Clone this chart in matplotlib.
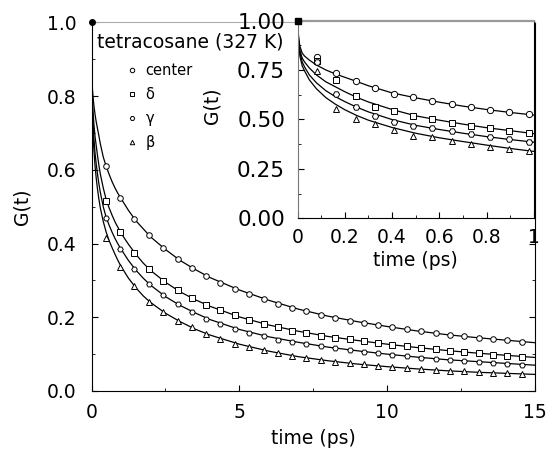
import matplotlib
matplotlib.use('Agg')
import matplotlib.pyplot as plt
from matplotlib.ticker import MultipleLocator

plt.rcParams['font.family'] = ['DejaVu Sans']

# main panel: sampled G(t), 0.485 ps apart
t_main = [0.48, 0.97, 1.45, 1.94, 2.42, 2.91, 3.39, 3.88, 4.36, 4.85,
          5.33, 5.82, 6.30, 6.79, 7.27, 7.76, 8.24, 8.73, 9.21, 9.70,
          10.18, 10.67, 11.15, 11.64, 12.12, 12.61, 13.09, 13.58, 14.06, 14.55]
g_center = [0.611, 0.524, 0.467, 0.423, 0.388, 0.358, 0.334, 0.312, 0.293, 0.277,
            0.263, 0.250, 0.236, 0.225, 0.217, 0.206, 0.198, 0.191, 0.185, 0.179,
            0.174, 0.168, 0.163, 0.158, 0.153, 0.148, 0.145, 0.141, 0.137, 0.133]
g_delta = [0.515, 0.432, 0.374, 0.331, 0.299, 0.274, 0.253, 0.234, 0.220, 0.205,
           0.192, 0.182, 0.173, 0.164, 0.157, 0.150, 0.145, 0.140, 0.135, 0.130,
           0.125, 0.121, 0.117, 0.113, 0.109, 0.105, 0.102, 0.099, 0.096, 0.093]
g_gamma = [0.469, 0.385, 0.330, 0.290, 0.260, 0.235, 0.214, 0.196, 0.181, 0.169,
           0.158, 0.148, 0.139, 0.134, 0.128, 0.121, 0.116, 0.111, 0.106, 0.102,
           0.098, 0.094, 0.090, 0.087, 0.084, 0.081, 0.078, 0.076, 0.073, 0.071]
g_beta = [0.415, 0.337, 0.285, 0.242, 0.214, 0.191, 0.173, 0.155, 0.140, 0.128,
          0.119, 0.110, 0.102, 0.096, 0.090, 0.083, 0.079, 0.076, 0.072, 0.069,
          0.066, 0.063, 0.060, 0.057, 0.055, 0.053, 0.051, 0.050, 0.048, 0.046]

# inset panel: first picosecond
t_short = [0.084, 0.164, 0.246, 0.328, 0.408, 0.490, 0.570, 0.652, 0.732, 0.814, 0.896, 0.980]
s_center = [0.815, 0.735, 0.693, 0.657, 0.631, 0.611, 0.592, 0.576, 0.561, 0.547, 0.535, 0.525]
s_delta = [0.795, 0.698, 0.618, 0.564, 0.542, 0.517, 0.502, 0.483, 0.468, 0.455, 0.443, 0.429]
s_gamma = [0.788, 0.628, 0.561, 0.518, 0.488, 0.468, 0.455, 0.441, 0.424, 0.412, 0.399, 0.387]
s_beta = [0.745, 0.552, 0.500, 0.475, 0.446, 0.416, 0.409, 0.390, 0.375, 0.362, 0.350, 0.338]

t_fit = [0, 0.005, 0.01, 0.02, 0.03, 0.05, 0.08, 0.12, 0.16, 0.2, 0.25, 0.3, 0.4, 0.5,
         0.6, 0.7, 0.8, 0.9, 1.0, 1.25, 1.5, 1.75, 2.0, 2.5, 3, 3.5, 4, 5, 6, 7, 8,
         9, 10, 11, 12, 13, 14, 15]
fit_center = [1.0, 0.91, 0.87, 0.835, 0.82, 0.80, 0.775, 0.75, 0.73, 0.713, 0.692, 0.670,
              0.634, 0.609, 0.587, 0.567, 0.550, 0.535, 0.522, 0.490, 0.462, 0.440, 0.418,
              0.384, 0.354, 0.330, 0.308, 0.274, 0.246, 0.222, 0.203, 0.188, 0.175, 0.163,
              0.153, 0.145, 0.138, 0.131]
fit_delta = [1.0, 0.90, 0.85, 0.81, 0.79, 0.76, 0.725, 0.69, 0.665, 0.64, 0.612, 0.588,
             0.550, 0.518, 0.496, 0.476, 0.458, 0.443, 0.428, 0.398, 0.371, 0.347, 0.327,
             0.295, 0.269, 0.248, 0.230, 0.201, 0.179, 0.162, 0.148, 0.137, 0.127, 0.118,
             0.110, 0.103, 0.097, 0.091]
fit_gamma = [1.0, 0.89, 0.84, 0.79, 0.765, 0.725, 0.685, 0.645, 0.615, 0.59, 0.562, 0.538,
             0.499, 0.470, 0.449, 0.430, 0.413, 0.398, 0.385, 0.354, 0.328, 0.306, 0.287,
             0.256, 0.232, 0.212, 0.194, 0.167, 0.147, 0.132, 0.119, 0.109, 0.100, 0.092,
             0.085, 0.080, 0.075, 0.070]
fit_beta = [1.0, 0.88, 0.82, 0.77, 0.745, 0.70, 0.655, 0.61, 0.577, 0.549, 0.520, 0.496,
            0.459, 0.430, 0.407, 0.388, 0.370, 0.353, 0.338, 0.306, 0.280, 0.258, 0.240,
            0.211, 0.188, 0.168, 0.152, 0.127, 0.108, 0.093, 0.082, 0.073, 0.066, 0.060,
            0.055, 0.051, 0.048, 0.045]

t0, g0 = 0.0, 1.0

labels = ['center', 'δ', 'γ', 'β']
markers = ['o', 's', 'H', '^']
main_sets = [g_center, g_delta, g_gamma, g_beta]
short_sets = [s_center, s_delta, s_gamma, s_beta]
fit_sets = [fit_center, fit_delta, fit_gamma, fit_beta]

fig = plt.figure(figsize=(5.49, 4.53), dpi=100)
ax = fig.add_axes([0.1667, 0.1369, 0.8078, 0.8135])

for g, fit, m, lab in zip(main_sets, fit_sets, markers, labels):
    ax.plot(t_fit, fit, color='black', linewidth=0.9, zorder=2)
    ax.plot(t_main, g, linestyle='none', marker=m, markersize=4, markerfacecolor='white',
            markeredgecolor='black', markeredgewidth=0.7, label=lab, zorder=3)
ax.plot([t0], [g0], marker='o', markersize=4, color='black', clip_on=False, zorder=4)

ax.set_xlim(0, 15)
ax.set_ylim(0, 1.0)
ax.xaxis.set_major_locator(MultipleLocator(5))
ax.xaxis.set_minor_locator(MultipleLocator(2.5))
ax.yaxis.set_minor_locator(MultipleLocator(0.1))
ax.set_yticks([0, 0.2, 0.4, 0.6, 0.8, 1.0])
ax.set_yticklabels(['0.0', '0.2', '0.4', '0.6', '0.8', '1.0'])
ax.tick_params(which='both', direction='in', right=True, labelsize=13.5)
ax.tick_params(axis='y', which='major', length=4, pad=11)
ax.tick_params(axis='x', which='major', length=4, pad=9)
ax.tick_params(which='minor', length=2.5)
ax.spines['top'].set_color('#aaaaaa')
ax.set_xlabel('time (ps)', fontsize=13.5, labelpad=5)
ax.set_ylabel('G(t)', fontsize=13.5)
ax.yaxis.set_label_coords(-0.135, 0.5)

ax.text(0.012, 0.947, 'tetracosane (327 K)', transform=ax.transAxes, fontsize=13.5,
        ha='left', va='center')
ax.legend(loc='upper left', bbox_to_anchor=(0.082, 0.891), frameon=False, fontsize=10.5,
          handlelength=0.6, handletextpad=0.6, labelspacing=0.62, borderpad=0,
          borderaxespad=0, markerscale=0.8)

# inset
ins = fig.add_axes([0.5419, 0.5181, 0.4308, 0.4366])
for g, fit, m in zip(short_sets, fit_sets, markers):
    ins.plot(t_fit, fit, color='black', linewidth=0.9, zorder=2)
    ins.plot(t_short, g, linestyle='none', marker=m, markersize=4.5, markerfacecolor='white',
             markeredgecolor='black', markeredgewidth=0.7, zorder=3)
ins.plot([t0], [g0], marker='s', markersize=4, color='black', clip_on=False, zorder=4)

ins.set_xlim(0, 1)
ins.set_ylim(0, 1)
ins.set_xticks([0, 0.2, 0.4, 0.6, 0.8, 1.0])
ins.set_xticklabels(['0', '0.2', '0.4', '0.6', '0.8', '1'])
ins.xaxis.set_minor_locator(MultipleLocator(0.1))
ins.set_yticks([0, 0.25, 0.5, 0.75, 1.0])
ins.set_yticklabels(['0.00', '0.25', '0.50', '0.75', '1.00'])
ins.yaxis.set_minor_locator(MultipleLocator(0.125))
ins.tick_params(which='both', direction='in')
ins.tick_params(axis='x', which='major', labelsize=13.5, length=4, pad=7)
ins.tick_params(axis='y', which='major', labelsize=15.5, length=4, pad=9)
ins.tick_params(which='minor', length=2.5)
ins.spines['top'].set_color('#999999')
ins.spines['top'].set_linewidth(1.6)
ins.spines['left'].set_color('#777777')
ins.set_xlabel('time (ps)', fontsize=13.5, labelpad=3)
ins.set_ylabel('G(t)', fontsize=13.5)
ins.yaxis.set_label_coords(-0.32, 0.57)

fig.savefig('out.png', dpi=100)
